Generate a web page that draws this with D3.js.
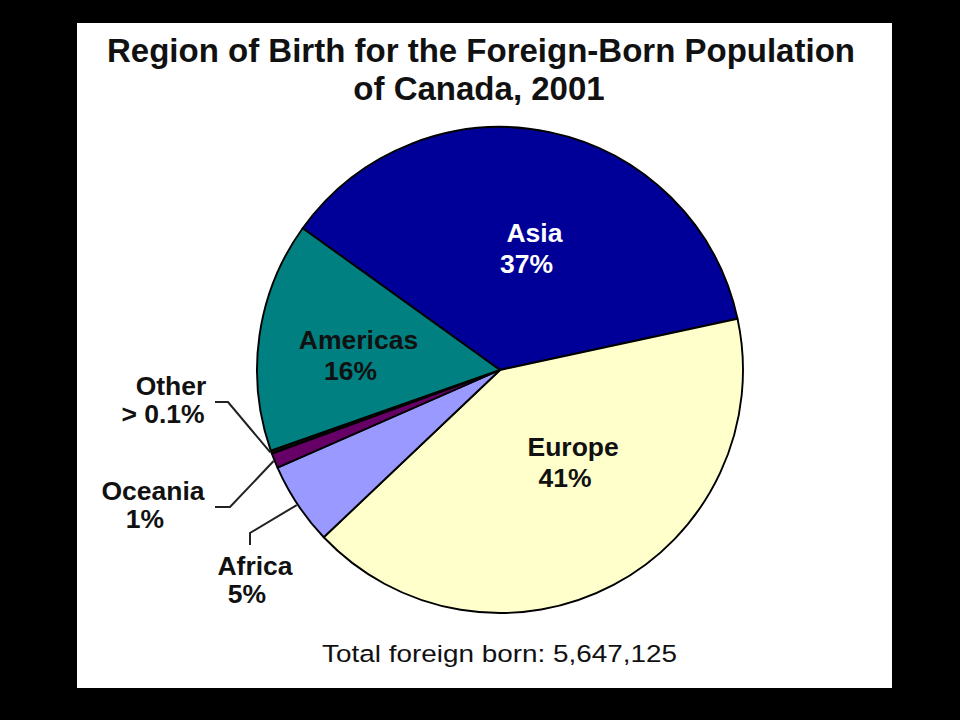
<!DOCTYPE html>
<html>
<head>
<meta charset="utf-8">
<script src="https://cdn.jsdelivr.net/npm/d3@7"></script>
<style>
  html, body { margin: 0; padding: 0; background: #000; }
  svg { display: block; }
  text { font-family: "Liberation Sans", Arial, sans-serif; }
</style>
</head>
<body>
<svg id="chart" width="960" height="720"></svg>
<script>
// ---- data ----
const categories = ["Asia", "Europe", "Africa", "Oceania", "Other", "Americas"];
const shares     = [36.7, 41.3, 5.5, 1.0, 0.2, 15.3];           // % of foreign-born (slice sizes)
const pctLabels  = ["37%", "41%", "5%", "1%", "> 0.1%", "16%"]; // printed labels
const colors     = ["#000099", "#ffffcc", "#9999ff", "#660066", "#111111", "#008080"];
const titleLines = ["Region of Birth for the Foreign-Born Population", "of Canada, 2001"];
const footnote   = "Total foreign born: 5,647,125";

// ---- layout ----
const W = 960, H = 720;
const svg = d3.select("#chart");
svg.append("rect").attr("width", W).attr("height", H).attr("fill", "#000");
svg.append("rect").attr("x", 77).attr("y", 23).attr("width", 815).attr("height", 665).attr("fill", "#fff");

// title
svg.append("text").attr("x", 481).attr("y", 62).attr("text-anchor", "middle")
  .attr("font-size", 33).attr("font-weight", "bold").attr("fill", "#111")
  .text(titleLines[0]);
svg.append("text").attr("x", 479).attr("y", 100).attr("text-anchor", "middle")
  .attr("font-size", 33).attr("font-weight", "bold").attr("fill", "#111")
  .text(titleLines[1]);

// pie
const cx = 500, cy = 370, R = 243;
const data = categories.map((c, i) => ({ name: c, value: shares[i], pct: pctLabels[i], color: colors[i] }));
const start = -54.3 * Math.PI / 180;
const pie = d3.pie().value(d => d.value).sort(null).startAngle(start).endAngle(start + 2 * Math.PI);
const arcs = pie(data);
const arc = d3.arc().innerRadius(0).outerRadius(R);

const g = svg.append("g").attr("transform", `translate(${cx},${cy})`);
g.selectAll("path.slice").data(arcs).join("path")
  .attr("class", "slice")
  .attr("d", arc)
  .attr("fill", d => d.data.color)
  .attr("stroke", "#000")
  .attr("stroke-width", 1.9)
  .attr("stroke-linejoin", "round");

// inside labels (centroid-based with small layout nudges)
const inside = { Asia: { r: 125, dx: 5, dy: 0, fill: "#fff" },
                 Europe: { r: 118, dx: 14, dy: -12, fill: "#111" },
                 Americas: { r: 145, dx: -2, dy: 6, fill: "#111" } };
arcs.filter(a => inside[a.data.name]).forEach(a => {
  const cfg = inside[a.data.name];
  const m = (a.startAngle + a.endAngle) / 2;
  const x = cx + cfg.r * Math.sin(m) + cfg.dx;
  const y = cy - cfg.r * Math.cos(m) + cfg.dy;
  const t = svg.append("text").attr("text-anchor", "middle")
    .attr("font-size", 26.5).attr("font-weight", "bold").attr("fill", cfg.fill);
  t.append("tspan").attr("x", x + 4).attr("y", y - 6).text(a.data.name);
  t.append("tspan").attr("x", x - 4).attr("y", y + 25).text(a.data.pct);
});

// outside labels with leader lines
const outside = {
  Other:   { tx: 171, ty: 395, anchor: "middle", elbow: [[215, 402], [228, 402]] },
  Oceania: { tx: 153, ty: 500, anchor: "middle", elbow: [[215, 507], [230, 507]] },
  Africa:  { tx: 255, ty: 575, anchor: "middle", elbow: [[250, 545], [250, 533]] }
};
arcs.filter(a => outside[a.data.name]).forEach(a => {
  const cfg = outside[a.data.name];
  const m = (a.startAngle + a.endAngle) / 2;
  const ex = cx + (R + 1) * Math.sin(m), ey = cy - (R + 1) * Math.cos(m);
  const pts = cfg.elbow.concat([[ex, ey]]);
  svg.append("path").attr("d", d3.line()(pts))
    .attr("fill", "none").attr("stroke", "#222").attr("stroke-width", 2);
  const t = svg.append("text").attr("text-anchor", cfg.anchor)
    .attr("font-size", 26.5).attr("font-weight", "bold").attr("fill", "#111");
  t.append("tspan").attr("x", cfg.tx).attr("y", cfg.ty).text(a.data.name);
  t.append("tspan").attr("x", cfg.tx - 8).attr("y", cfg.ty + 28).text(a.data.pct);
});

// footnote
svg.append("text").attr("x", 322).attr("y", 662)
  .attr("font-size", 24.5).attr("fill", "#111")
  .attr("textLength", 355).attr("lengthAdjust", "spacingAndGlyphs")
  .text(footnote);
</script>
</body>
</html>
